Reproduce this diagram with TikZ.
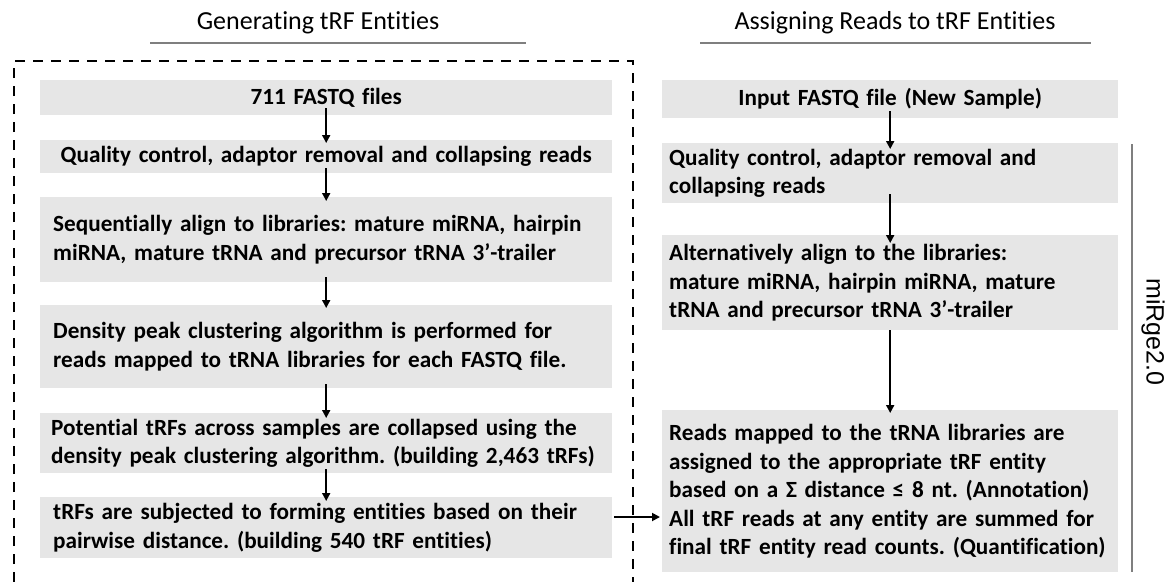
\documentclass[tikz,border=0pt]{standalone}
\usepackage{fontspec}
\setmainfont{Carlito}[RawFeature=-liga]
\newfontfamily\arialfont{Liberation Sans}
\usetikzlibrary{arrows.meta}
\definecolor{boxgray}{HTML}{E6E6E6}
\definecolor{linegray}{HTML}{7F7F7F}
\tikzset{
  stepbox/.style={fill=boxgray, draw=none, inner ysep=0pt, anchor=north west,
    font=\fontsize{23.2}{28.5}\selectfont\bfseries},
  lbox/.style={stepbox, text width=556pt, inner xsep=8pt},
  rbox/.style={stepbox, text width=442pt, inner xsep=7pt},
  flow/.style={line width=1.8pt, -{Triangle[length=8pt,width=8pt]}},
  titletext/.style={font=\fontsize{26}{30}\selectfont},
  rule/.style={draw=linegray, line width=1.3pt},
}
\begin{document}
\frenchspacing
\begin{tikzpicture}[x=1pt,y=-1pt]
\useasboundingbox (0,0) rectangle (1170,581);
% titles
\node[titletext] (t1) at (318,23) {Generating tRF Entities};
\node[titletext] (t2) at (895,23) {Assigning Reads to tRF Entities};
\draw[rule] (150,43) -- (526,43);
\draw[rule] (700,43) -- (1091,43);
% dashed frame
\begin{scope}
\clip (0,0) rectangle (1170,581);
\draw[line width=2.2pt, dash pattern=on 10pt off 8pt] (14,600) -- (14,61) -- (633,61) -- (633,600);
\end{scope}
% left column
\node[lbox, minimum height=35pt, align=center] (l1) at (40,80) {711 FASTQ files};
\node[lbox, minimum height=33pt, align=center] (l2) at (40,140) {Quality control, adaptor removal and collapsing reads};
\node[lbox, minimum height=85pt, align=left] (l3) at (40,197) {\hspace*{5pt}Sequentially align to libraries: mature miRNA, hairpin\\\hspace*{5pt}miRNA, mature tRNA and precursor tRNA 3’-trailer};
\node[lbox, minimum height=83pt, align=left] (l4) at (40,305) {\hspace*{5pt}Density peak clustering algorithm is performed for\\\hspace*{5pt}reads mapped to tRNA libraries for each FASTQ file.};
\node[lbox, minimum height=60pt, align=left] (l5) at (40,413) {\hspace*{3pt}Potential tRFs across samples are collapsed using the\\\hspace*{3pt}density peak clustering algorithm. (building 2,463 tRFs)};
\node[lbox, minimum height=61pt, align=left] (l6) at (40,497) {\hspace*{5pt}tRFs are subjected to forming entities based on their\\\hspace*{5pt}pairwise distance. (building 540 tRF entities)};
% right column
\node[rbox, minimum height=38pt, align=center] (r1) at (662,80) {Input FASTQ file (New Sample)};
\node[rbox, minimum height=60pt, align=left] (r2) at (662,143) {Quality control, adaptor removal and\\collapsing reads};
\node[rbox, minimum height=95pt, align=left] (r3) at (662,235) {Alternatively align to the libraries:\\mature miRNA, hairpin miRNA, mature\\tRNA and precursor tRNA 3’-trailer};
\node[rbox, minimum height=162pt, align=left] (r4) at (662,410) {Reads mapped to the tRNA libraries are\\assigned to the appropriate tRF entity\\based on a Σ distance ≤ 8 nt. (Annotation)\\All tRF reads at any entity are summed for\\final tRF entity read counts. (Quantification)};
% arrows
\draw[flow] ([yshift=7pt]l1.south) -- ([yshift=-3pt]l2.north);
\draw[flow] ([yshift=5pt]l2.south) -- ([yshift=-4pt]l3.north);
\draw[flow] ([yshift=5pt]l3.south) -- ([yshift=-3pt]l4.north);
\draw[flow] ([yshift=4pt]l4.south) -- ([yshift=-5pt]l5.north);
\draw[flow] ([yshift=4pt]l5.south) -- ([yshift=-4pt]l6.north);
\draw[flow] ([yshift=7pt]r1.south) -- ([yshift=-6pt]r2.north);
\draw[flow] ([yshift=9pt]r2.south) -- ([yshift=-8pt]r3.north);
\draw[flow] (r3.south) -- ([yshift=-3pt]r4.north);
\coordinate (hs) at (l6.east |- 0,517);
\coordinate (he) at (r4.west |- 0,517);
\draw[flow] ([xshift=2pt]hs) -- ([xshift=-2pt]he);
% miRge2.0 bracket
\coordinate (b1) at (1132,144);
\coordinate (b2) at (1132,572);
\draw[rule] (b1) -- (b2);
\node[font=\arialfont\fontsize{25}{28}\selectfont, rotate=-90] (mg) at (1153,332) {miRge2.0};
\end{tikzpicture}
\end{document}
